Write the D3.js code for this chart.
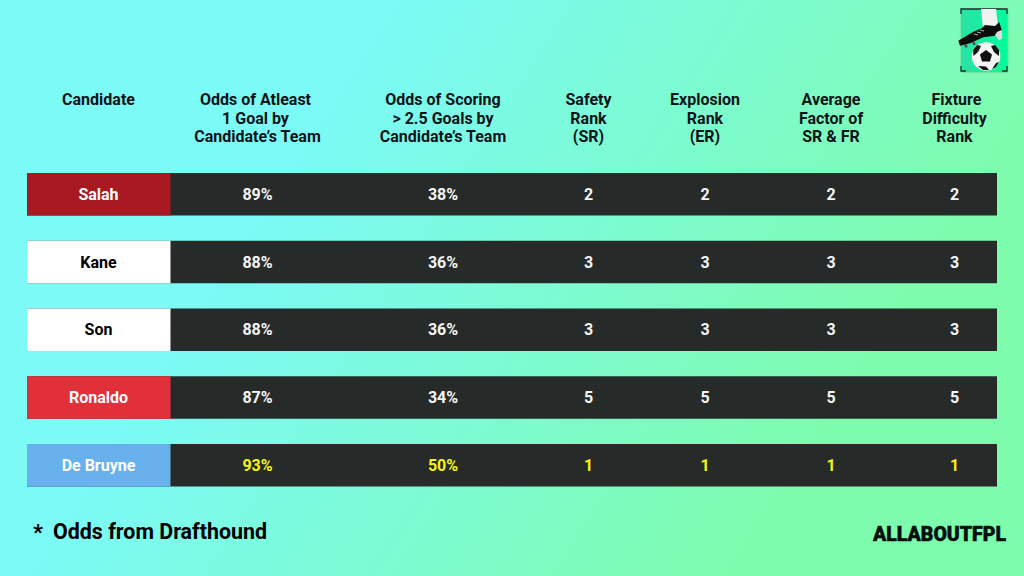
<!DOCTYPE html>
<html>
<head>
<meta charset="utf-8">
<script src="https://cdn.jsdelivr.net/npm/d3@7"></script>
<style>
  html, body { margin: 0; padding: 0; width: 1024px; height: 576px; overflow: hidden; }
  text { font-family: Roboto, sans-serif; }
</style>
</head>
<body>
<svg id="chart" width="1024" height="576"></svg>
<script>
// Table contents
var candidates = ["Salah", "Kane", "Son", "Ronaldo", "De Bruyne"];
var headers = [
  ["Candidate"],
  ["Odds of Atleast", "1 Goal by", "Candidate’s Team"],
  ["Odds of Scoring", "> 2.5 Goals by", "Candidate’s Team"],
  ["Safety", "Rank", "(SR)"],
  ["Explosion", "Rank", "(ER)"],
  ["Average", "Factor of", "SR & FR"],
  ["Fixture", "Difficulty", "Rank"]
];
var oneGoalOdds = [89, 88, 88, 87, 93];
var twoGoalOdds = [38, 36, 36, 34, 50];
var safetyRank = [2, 3, 3, 5, 1];
var explosionRank = [2, 3, 3, 5, 1];
var averageFactor = [2, 3, 3, 5, 1];
var fixtureRank = [2, 3, 3, 5, 1];

var teamColors = ["#a81921", "#ffffff", "#ffffff", "#e2303b", "#69b1ec"];
var teamText = ["#ffffff", "#000000", "#000000", "#ffffff", "#ffffff"];
var highlight = "De Bruyne";

var svg = d3.select("#chart");
var defs = svg.append("defs");

// Background gradient
var bg = defs.append("linearGradient").attr("id", "bg")
  .attr("gradientUnits", "userSpaceOnUse")
  .attr("x1", 330).attr("y1", 100).attr("x2", 830).attr("y2", 420);
bg.append("stop").attr("offset", "0").attr("stop-color", "#7bfaf6");
bg.append("stop").attr("offset", "1").attr("stop-color", "#7efcae");
svg.append("rect").attr("width", 1024).attr("height", 576).attr("fill", "url(#bg)");

var y = d3.scaleBand().domain(candidates).range([173, 486.5]).paddingInner(0.373);
var columns = d3.range(headers.length);
var x = d3.scaleOrdinal().domain(columns).range([98.5, 257.5, 443, 588.5, 705, 831, 954.5]);

// A few header lines sit slightly off centre in the original
function lineNudge(t) {
  if (t === "Odds of Atleast" || t === "1 Goal by") return -2;
  if (t === "Fixture") return 2;
  return 0;
}

// Header text
var head = svg.append("g").selectAll("text").data(headers).join("text")
  .attr("text-anchor", "middle")
  .attr("fill", "#0b1418")
  .attr("font-size", 16)
  .attr("font-weight", 700);
head.selectAll("tspan").data(function (d, i) { return d.map(function (t) { return { t: t, i: i }; }); })
  .join("tspan")
  .attr("x", function (d) { return x(d.i) + lineNudge(d.t); })
  .attr("y", function (d, j) { return 105 + j * 18.7; })
  .text(function (d) { return d.t; });

// Rows
var rows = svg.append("g").selectAll("g").data(candidates).join("g")
  .attr("transform", function (d) { return "translate(0," + y(d) + ")"; });

rows.append("rect")
  .attr("x", 27).attr("width", 970)
  .attr("height", y.bandwidth())
  .attr("fill", "#262b2a");

rows.append("rect")
  .attr("x", 27).attr("width", 143.5)
  .attr("height", y.bandwidth())
  .attr("fill", function (d, i) { return teamColors[i]; });

rows.append("text")
  .attr("x", x(0))
  .attr("y", y.bandwidth() / 2 + 5.7)
  .attr("text-anchor", "middle")
  .attr("font-size", 16)
  .attr("font-weight", 700)
  .attr("fill", function (d, i) { return teamText[i]; })
  .text(function (d) { return d; });

var cellValues = [
  oneGoalOdds.map(function (v) { return v + "%"; }),
  twoGoalOdds.map(function (v) { return v + "%"; }),
  safetyRank, explosionRank, averageFactor, fixtureRank
];

cellValues.forEach(function (values, c) {
  rows.append("text")
    .attr("x", x(c + 1))
    .attr("y", y.bandwidth() / 2 + 5.7)
    .attr("text-anchor", "middle")
    .attr("font-size", 16)
    .attr("font-weight", 700)
    .attr("fill", function (d) { return d === highlight ? "#f4f312" : "#f4f4f4"; })
    .text(function (d, i) { return values[i]; });
});

// Footer
svg.append("text").attr("x", 33).attr("y", 540)
  .attr("font-size", 22).attr("font-weight", 700).attr("fill", "#000").text("*");
svg.append("text").attr("x", 53).attr("y", 539)
  .attr("font-size", 21.4).attr("font-weight", 700).attr("fill", "#000").text("Odds from Drafthound");
svg.append("text").attr("x", 873).attr("y", 541)
  .attr("font-size", 19.5).attr("font-weight", 900)
  .attr("fill", "#05100c").attr("stroke", "#05100c").attr("stroke-width", 0.5)
  .attr("textLength", 133).attr("lengthAdjust", "spacing")
  .text("ALLABOUTFPL");

// Logo: boot on a ball
var soft = defs.append("filter").attr("id", "soft")
  .attr("x", "-20%").attr("y", "-20%").attr("width", "140%").attr("height", "140%");
soft.append("feDropShadow").attr("dx", 0.5).attr("dy", 1).attr("stdDeviation", 1.2)
  .attr("flood-color", "#000").attr("flood-opacity", 0.3);
var logoFill = defs.append("linearGradient").attr("id", "logoFill")
  .attr("x1", 0).attr("y1", 0).attr("x2", 1).attr("y2", 0);
logoFill.append("stop").attr("offset", "0").attr("stop-color", "#2ce2a6");
logoFill.append("stop").attr("offset", "1").attr("stop-color", "#02fb9b");

var logo = svg.append("g").attr("transform", "translate(961,9)");
logo.append("rect").attr("width", 46).attr("height", 62).attr("fill", "url(#logoFill)").attr("filter", "url(#soft)");
logo.append("path").attr("d", "M0 5V0H46V5M46 57V62H41M5 62H0V57")
  .attr("fill", "none").attr("stroke", "#14302a").attr("stroke-width", 1.3);
logo.append("path").attr("d", "M20 0H35L37 17L22 19Z").attr("fill", "#f2f2f2");
logo.append("circle").attr("cx", 25).attr("cy", 47.5).attr("r", 14.3).attr("fill", "#f4f4f4");
logo.append("path").attr("d", "M25 41L31 45.5L29 52.5H21L19 45.5Z").attr("fill", "#111");
logo.append("path").attr("d", "M16 36L12 41L12.5 47L17 43L20 37ZM34 36L38 41L38 47L33 43L30 37ZM17 57L22 61L28 61L25 57.5ZM35 54L31 60L35 58L38 53Z").attr("fill", "#111");
logo.append("path").attr("d", "M-2.700 31.700L12.300 22.700L20.700 19.300L24 16L34 17L38.300 13L40.700 21L36 26L32.300 27L22.300 28.300L9 34.300L-1 36.700Z").attr("fill", "#0c0c0c");
logo.append("path").attr("d", "M34 26L36.300 22.700L40.700 21L41.300 29.300L38.300 31.700Z").attr("fill", "#dcdcdc");
logo.append("path").attr("d", "M3 36L6 35L6.500 38.500L4 38.500ZM11 33.500L14 32.500L14.500 36L12 36Z").attr("fill", "#555");
logo.append("path").attr("d", "M13 25L17 26M16 23L20 24M19 21L23 22").attr("stroke", "#ddd").attr("stroke-width", 0.8);
</script>
</body>
</html>
